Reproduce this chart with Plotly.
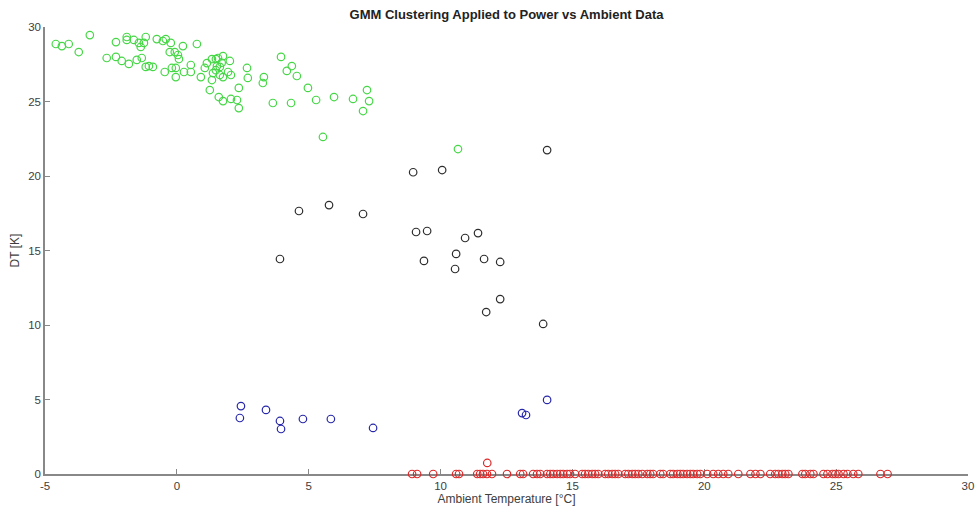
import plotly.graph_objects as go

# Cluster 1 (green): cold ambient, high DT
green_x = [-4.59, -4.36, -4.10, -3.72, -3.30, -2.31, -2.66, -2.31, -2.09, -1.82,
           -1.90, -1.90, -1.63, -1.44, -1.37, -1.25, -1.18, -1.52, -1.33, -1.18,
           -1.06, -0.91, -0.76, -0.53, -0.42, -0.23, -0.46, -0.27, -0.08, 0.04,
           0.08, -0.04, -0.04, -0.19, 0.23, 0.27, 0.53, 0.53, 0.76, 0.91,
           1.06, 1.14, 1.33, 1.48, 1.56, 1.75, 1.52, 1.63, 1.37, 1.63,
           1.75, 1.94, 2.01, 2.05, 1.33, 1.25, 1.59, 1.75, 2.05, 2.28,
           2.35, 2.35, 2.66, 2.69, 3.30, 3.26, 3.64, 3.95, 4.17, 4.36,
           4.55, 4.33, 4.97, 5.28, 5.96, 6.68, 7.21, 7.29, 7.06, 5.54,
           10.66, 1.48, 1.70]
green_y = [28.86, 28.72, 28.86, 28.32, 29.46, 28.99, 27.92, 27.99, 27.72, 27.52,
           29.33, 29.13, 29.13, 28.93, 28.66, 28.93, 29.33, 27.79, 27.92, 27.32,
           27.38, 27.32, 29.19, 29.06, 29.19, 28.93, 26.98, 28.32, 28.32, 28.12,
           27.85, 27.25, 26.64, 27.25, 28.72, 26.98, 27.45, 26.98, 28.86, 26.64,
           27.25, 27.58, 27.85, 27.85, 27.92, 28.05, 27.38, 27.32, 26.91, 26.78,
           26.64, 26.98, 27.72, 26.78, 26.44, 25.77, 25.30, 25.03, 25.17, 25.10,
           24.56, 25.91, 27.25, 26.58, 26.64, 26.24, 24.90, 27.99, 27.05, 27.38,
           26.71, 24.90, 25.91, 25.10, 25.30, 25.17, 25.77, 25.03, 24.36, 22.62,
           21.81, 27.10, 27.60]

# Cluster 2 (black): mid ambient, mid DT
black_x = [14.04, 8.96, 10.06, 4.63, 5.77, 7.06, 9.07, 9.49, 10.93, 11.42,
           3.91, 9.37, 10.59, 10.55, 11.65, 12.26, 12.26, 11.73, 13.89]
black_y = [21.74, 20.25, 20.40, 17.65, 18.05, 17.45, 16.24, 16.31, 15.84, 16.17,
           14.43, 14.30, 14.77, 13.76, 14.43, 14.23, 11.74, 10.87, 10.07]

# Cluster 3 (blue): low DT
blue_x = [2.43, 2.39, 3.38, 3.91, 3.95, 4.78, 5.84, 7.44, 13.09, 13.24, 14.04]
blue_y = [4.56, 3.76, 4.30, 3.56, 3.02, 3.69, 3.69, 3.09, 4.09, 3.96, 4.97]

# Cluster 4 (red): warm ambient, DT near zero
red_x = [8.92, 9.11, 9.72, 10.59, 10.70, 11.39, 11.50, 11.61, 11.76, 11.95,
         12.52, 13.02, 13.13, 13.51, 13.66, 13.78, 14.04, 14.16, 14.27, 14.42,
         14.54, 14.65, 14.80, 14.91, 15.10, 15.37, 15.48, 15.60, 15.75, 15.86,
         15.98, 16.24, 16.36, 16.51, 16.62, 16.74, 17.00, 17.12, 17.27, 17.38,
         17.50, 17.65, 17.84, 17.95, 18.06, 18.33, 18.44, 18.71, 18.82, 18.98,
         19.09, 19.20, 19.35, 19.47, 19.58, 19.73, 19.85, 20.11, 20.34, 20.53,
         20.72, 20.91, 21.29, 21.75, 21.94, 22.13, 22.50, 22.69, 22.81, 22.96,
         23.07, 23.19, 23.72, 23.83, 24.02, 24.14, 24.52, 24.67, 24.86, 24.97,
         25.09, 25.28, 25.43, 25.65, 25.84, 26.68, 26.95, 11.77]
red_y = [0.0] * (len(red_x) - 1) + [0.74]

x_ticks = [-5, 0, 5, 10, 15, 20, 25, 30]
y_ticks = [0, 5, 10, 15, 20, 25, 30]

clusters = [
    (green_x, green_y, "rgb(70,215,70)"),
    (black_x, black_y, "rgb(45,45,45)"),
    (blue_x, blue_y, "rgb(40,40,170)"),
    (red_x, red_y, "rgb(220,40,40)"),
]

fig = go.Figure()
for xs, ys, col in clusters:
    fig.add_trace(go.Scatter(
        x=xs, y=ys, mode="markers", cliponaxis=False, showlegend=False,
        marker=dict(symbol="circle-open", size=7.5, color=col, line=dict(width=1.2, color=col)),
    ))

tick_font = dict(family="Liberation Sans, Arial, sans-serif", size=11.5, color="#404040")
label_font = dict(family="Liberation Sans, Arial, sans-serif", size=12, color="#404040")

fig.update_layout(
    width=976, height=511,
    margin=dict(l=45, r=8, t=27, b=37),
    paper_bgcolor="white", plot_bgcolor="white",
    font=tick_font,
    title=dict(
        text="<b>GMM Clustering Applied to Power vs Ambient Data</b>",
        x=0.5, xref="paper", xanchor="center", y=1 - 14 / 511, yanchor="middle",
        font=dict(family="Liberation Sans Narrow, Liberation Sans, Arial", size=13, color="#222222"),
    ),
)
fig.update_xaxes(
    range=[-5, 30], tickvals=x_ticks, ticktext=[str(v) for v in x_ticks],
    showgrid=False, zeroline=False, showline=True, linecolor="#888888", linewidth=1.5,
    ticks="inside", ticklen=5, tickcolor="#888888", tickwidth=1, mirror=False,
    layer="below traces", automargin=False, tickfont=tick_font,
    title=dict(text="Ambient Temperature [°C]", standoff=4, font=label_font),
)
fig.update_yaxes(
    range=[0, 30], tickvals=y_ticks, ticktext=[str(v) for v in y_ticks],
    showgrid=False, zeroline=False, showline=True, linecolor="#888888", linewidth=1.5,
    ticks="inside", ticklen=5, tickcolor="#888888", tickwidth=1, mirror=False,
    layer="below traces", automargin=False, tickfont=tick_font,
    title=dict(text="DT [K]", standoff=6, font=label_font),
)

fig.write_html("out.html")
